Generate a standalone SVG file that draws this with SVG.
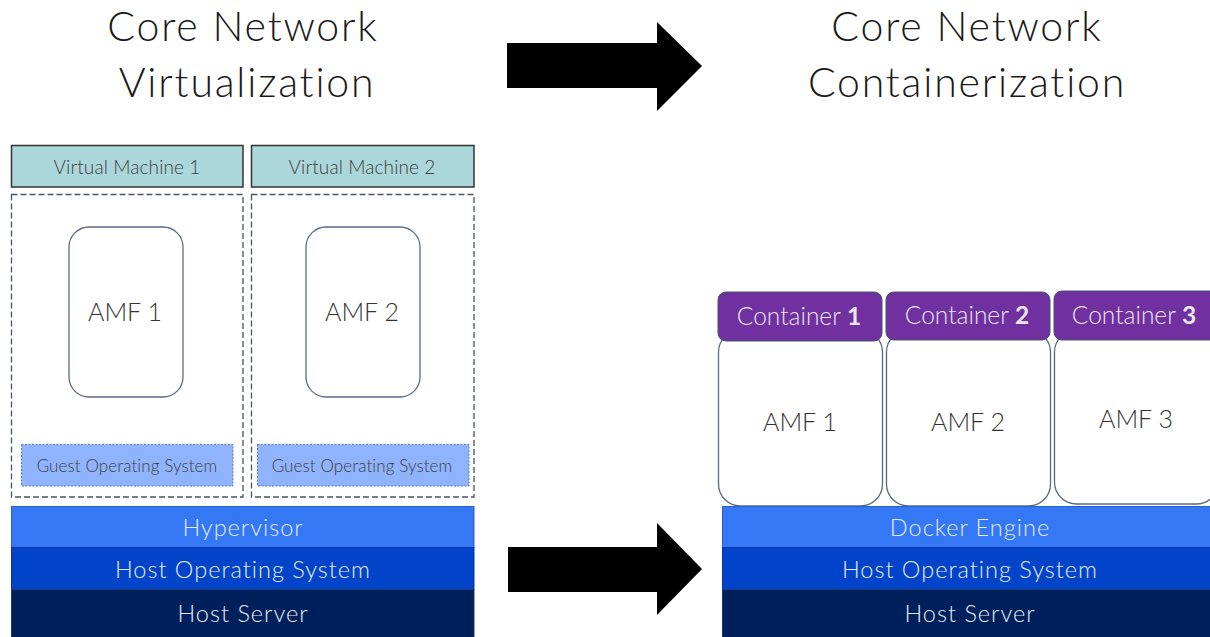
<svg xmlns="http://www.w3.org/2000/svg" width="1210" height="637" viewBox="0 0 1210 637">
<style>
text{font-family:Lato,"Liberation Sans",sans-serif;font-weight:300;text-anchor:middle}
.title{font-size:41px;fill:#1a1a1a;letter-spacing:1.8px}
.vmh{fill:#abd6da;stroke:#333;stroke-width:1.5}
.vmt{font-size:19px;fill:#404040;letter-spacing:0.1px}
.dash{fill:none;stroke:#44546a;stroke-width:1.3;stroke-dasharray:6 3}
.amf{fill:#fff;stroke:#5b6b86;stroke-width:1.3}
.amft{font-size:25px;fill:#333}
.guest{fill:#8fb3fc;stroke:#5a7bbd;stroke-width:1;stroke-dasharray:2 1.5}
.guestt{font-size:17px;fill:#404040;letter-spacing:0.1px}
.l1{fill:#3578f6;stroke:#2a5fc4;stroke-width:1}
.l2{fill:#0244c9;stroke:#0a36a0;stroke-width:1}
.l3{fill:#00205b;stroke:#1a3a7a;stroke-width:1}
.lt{font-size:23.5px;fill:#e4eaf5;letter-spacing:1px}
.cont{fill:#7030a0;stroke:#44546a;stroke-width:1}
.contt{font-size:24.5px;fill:#ece6f2}
.arrow{fill:#000}
</style>
<g id="title-left"><text class="title" x="243" y="41">Core Network</text><text class="title" x="247" y="97">Virtualization</text></g>
<g id="title-right"><text class="title" x="967" y="41">Core Network</text><text class="title" x="967" y="97">Containerization</text></g>
<g id="connectors">
<polygon id="arrow-top" class="arrow" points="507,43 657,43 657,22 702,66 657,111 657,88 507,88"/>
<polygon id="arrow-bottom" class="arrow" points="508,547 657,547 657,523 702,569 657,615 657,592 508,592"/>
</g>
<g id="vm1">
<rect class="vmh" x="11.5" y="145.5" width="231.5" height="41.5"/>
<text class="vmt" x="127" y="174">Virtual Machine 1</text>
<rect class="dash" x="11.5" y="194.5" width="231.5" height="302.5"/>
</g>
<g id="vm2">
<rect class="vmh" x="251.5" y="145.5" width="222.5" height="41.5"/>
<text class="vmt" x="362" y="174">Virtual Machine 2</text>
<rect class="dash" x="251.5" y="194.5" width="222.5" height="302.5"/>
</g>
<g id="amf1-vm"><rect class="amf" x="69" y="227" width="114" height="170" rx="20"/><text class="amft" x="125" y="321">AMF 1</text></g>
<g id="amf2-vm"><rect class="amf" x="306" y="227" width="114" height="170" rx="20"/><text class="amft" x="362" y="321">AMF 2</text></g>
<g id="guest1"><rect class="guest" x="21.5" y="444.5" width="211.5" height="41.5"/><text class="guestt" x="127" y="472">Guest Operating System</text></g>
<g id="guest2"><rect class="guest" x="257.5" y="444.5" width="211.5" height="41.5"/><text class="guestt" x="362" y="472">Guest Operating System</text></g>
<g id="hypervisor"><rect class="l1" x="11.5" y="506.5" width="462.5" height="41"/><text class="lt" x="243" y="536">Hypervisor</text></g>
<g id="hostos-left"><rect class="l2" x="11.5" y="547.5" width="462.5" height="42"/><text class="lt" x="243" y="578">Host Operating System</text></g>
<g id="hostserver-left"><rect class="l3" x="11.5" y="589.5" width="462.5" height="48"/><text class="lt" x="243" y="622">Host Server</text></g>
<g id="amf1-c"><rect class="amf" x="718.5" y="330" width="164" height="176" rx="22"/><text class="amft" x="800" y="431">AMF 1</text></g>
<g id="amf2-c"><rect class="amf" x="886.5" y="330" width="164" height="176" rx="22"/><text class="amft" x="968" y="431">AMF 2</text></g>
<g id="amf3-c"><rect class="amf" x="1054.5" y="330" width="164" height="174" rx="22"/><text class="amft" x="1136" y="428">AMF 3</text></g>
<g id="container1"><rect class="cont" x="718" y="292" width="164" height="49" rx="8"/><text class="contt" x="799" y="325">Container <tspan font-weight="700">1</tspan></text></g>
<g id="container2"><rect class="cont" x="886" y="292" width="164" height="48" rx="8"/><text class="contt" x="967" y="324">Container <tspan font-weight="700">2</tspan></text></g>
<g id="container3"><rect class="cont" x="1054" y="291" width="164" height="49" rx="8"/><text class="contt" x="1134" y="324">Container <tspan font-weight="700">3</tspan></text></g>
<g id="docker"><rect class="l1" x="722.5" y="506.5" width="490" height="41"/><text class="lt" x="970" y="536">Docker Engine</text></g>
<g id="hostos-right"><rect class="l2" x="722.5" y="547.5" width="490" height="42"/><text class="lt" x="970" y="578">Host Operating System</text></g>
<g id="hostserver-right"><rect class="l3" x="722.5" y="589.5" width="490" height="48"/><text class="lt" x="970" y="622">Host Server</text></g>
</svg>
